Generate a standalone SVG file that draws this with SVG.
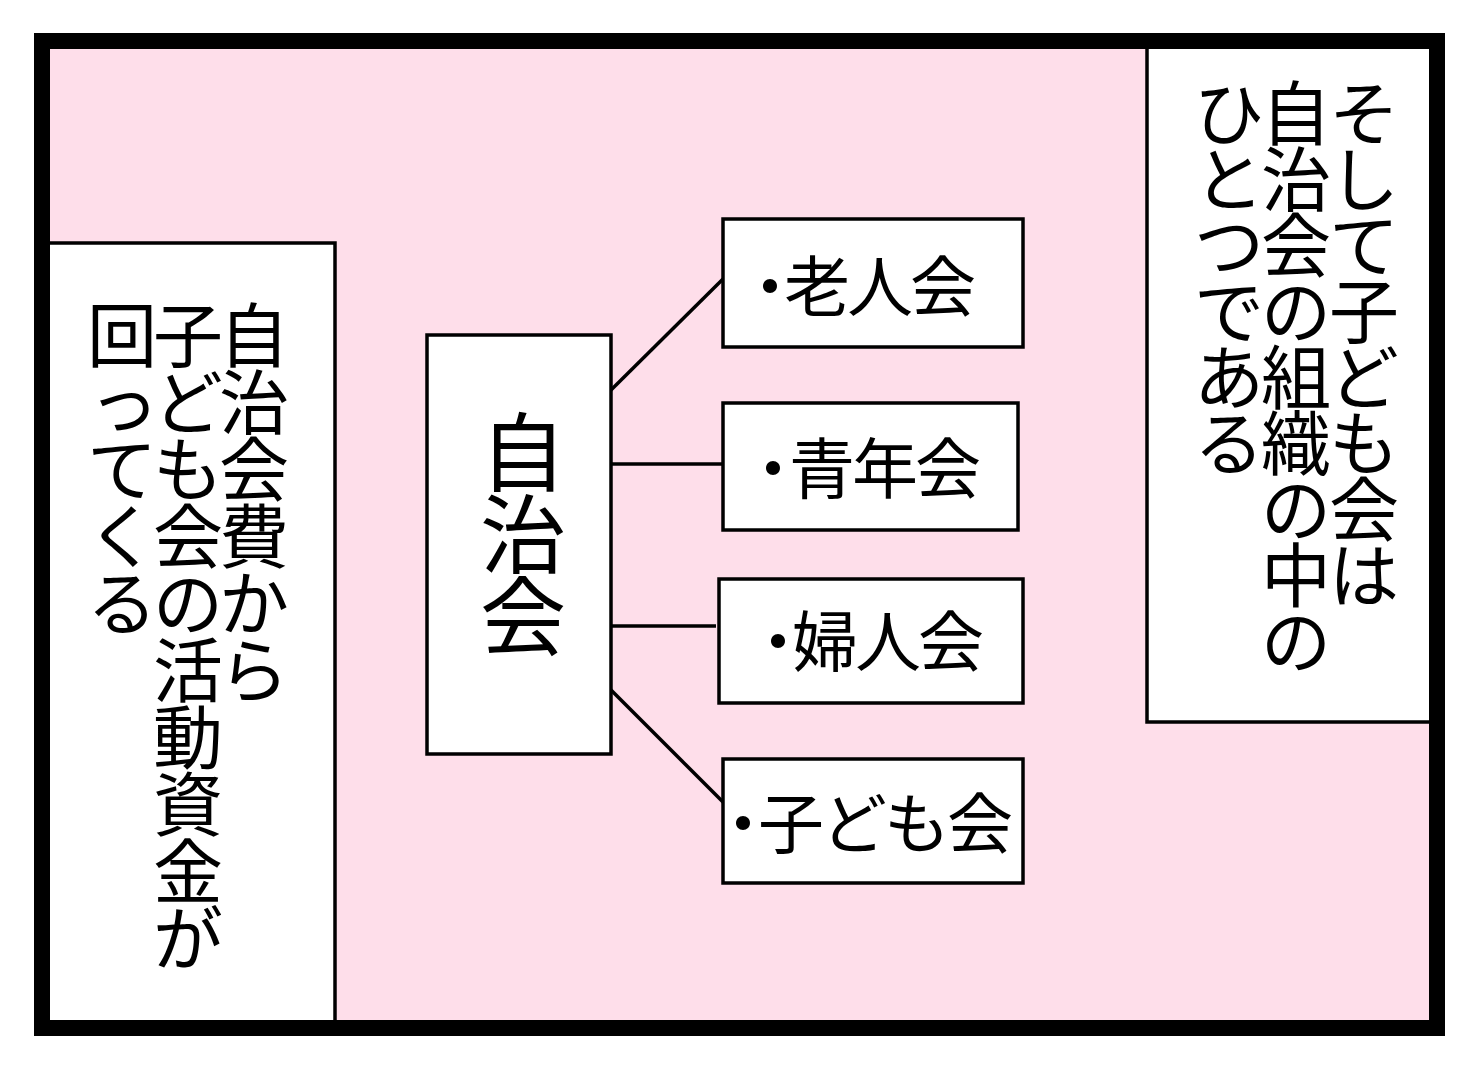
<svg xmlns="http://www.w3.org/2000/svg" width="1480" height="1081" viewBox="0 0 1480 1081">
<style>
.t{font-family:"Liberation Sans","Noto Sans CJK JP",sans-serif;fill:#000}
.v{font-size:70px;text-anchor:middle}
.lbl{font-size:66px;letter-spacing:-3px}
.box{fill:#fff;stroke:#000;stroke-width:3.5}
.con{stroke:#000;stroke-width:3.5;fill:none}
</style>
<rect x="0" y="0" width="1480" height="1081" fill="#fff"/>
<rect x="42" y="41" width="1395" height="987" fill="#FEDEEA"/>
<g id="note-left">
<rect class="box" x="40" y="243" width="295" height="790" stroke-width="4"/>
<text class="t v"><tspan x="254" y="362">自</tspan><tspan x="254" y="429">治</tspan><tspan x="254" y="496">会</tspan><tspan x="254" y="563">費</tspan><tspan x="254" y="630">か</tspan><tspan x="254" y="697">ら</tspan></text>
<text class="t v"><tspan x="188" y="362">子</tspan><tspan x="188" y="429">ど</tspan><tspan x="188" y="496">も</tspan><tspan x="188" y="563">会</tspan><tspan x="188" y="630">の</tspan><tspan x="188" y="697">活</tspan><tspan x="188" y="764">動</tspan><tspan x="188" y="831">資</tspan><tspan x="188" y="898">金</tspan><tspan x="188" y="965">が</tspan></text>
<text class="t v"><tspan x="122" y="362">回</tspan><tspan x="124" y="429">っ</tspan><tspan x="122" y="496">て</tspan><tspan x="122" y="563">く</tspan><tspan x="122" y="630">る</tspan></text>
</g>
<g id="note-right">
<rect class="box" x="1147" y="36" width="285" height="686" stroke-width="4"/>
<text class="t v"><tspan x="1364" y="140">そ</tspan><tspan x="1364" y="206">し</tspan><tspan x="1364" y="272">て</tspan><tspan x="1364" y="338">子</tspan><tspan x="1364" y="404">ど</tspan><tspan x="1364" y="470">も</tspan><tspan x="1364" y="536">会</tspan><tspan x="1364" y="602">は</tspan></text>
<text class="t v"><tspan x="1296" y="140">自</tspan><tspan x="1296" y="206">治</tspan><tspan x="1296" y="272">会</tspan><tspan x="1296" y="338">の</tspan><tspan x="1296" y="404">組</tspan><tspan x="1296" y="470">織</tspan><tspan x="1296" y="536">の</tspan><tspan x="1296" y="602">中</tspan><tspan x="1296" y="668">の</tspan></text>
<text class="t v"><tspan x="1229" y="140">ひ</tspan><tspan x="1229" y="206">と</tspan><tspan x="1229" y="272">つ</tspan><tspan x="1229" y="338">で</tspan><tspan x="1229" y="404">あ</tspan><tspan x="1229" y="470">る</tspan></text>
</g>
<g id="connectors">
<line class="con" x1="610" y1="391" x2="723" y2="279"/>
<line class="con" x1="610" y1="464" x2="725" y2="464"/>
<line class="con" x1="610" y1="626" x2="716" y2="626"/>
<line class="con" x1="610" y1="689" x2="724" y2="803"/>
</g>
<g id="jichikai">
<rect class="box" x="427" y="335" width="184" height="419"/>
<text class="t" font-size="86" text-anchor="middle"><tspan x="523" y="485">自</tspan><tspan x="523" y="567">治</tspan><tspan x="523" y="649">会</tspan></text>
</g>
<g id="roujinkai">
<rect class="box" x="723" y="219" width="300" height="128"/>
<text class="t lbl" x="737" y="311">・<tspan dx="-16">老人会</tspan></text>
</g>
<g id="seinenkai">
<rect class="box" x="723" y="403" width="295" height="127"/>
<text class="t lbl" x="740" y="493">・<tspan dx="-14">青年会</tspan></text>
</g>
<g id="fujinkai">
<rect class="box" x="719" y="579" width="304" height="124"/>
<text class="t lbl" x="745" y="666">・<tspan dx="-16">婦人会</tspan></text>
</g>
<g id="kodomokai">
<rect class="box" x="723" y="759" width="300" height="124"/>
<text class="t lbl" x="710" y="848">・<tspan dx="-15">子ども会</tspan></text>
</g>
<rect id="frame" x="42" y="41" width="1395" height="987" fill="none" stroke="#000" stroke-width="16"/>
</svg>
